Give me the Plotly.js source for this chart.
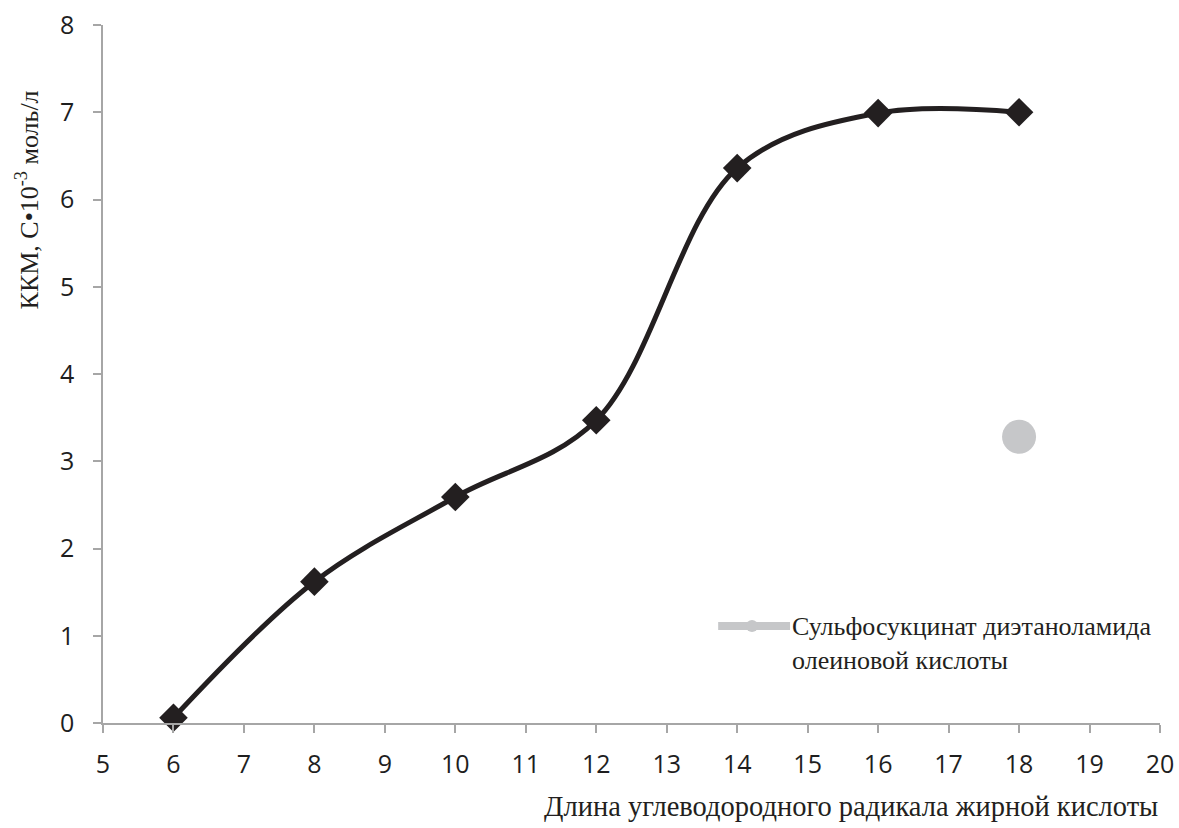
<!DOCTYPE html>
<html><head><meta charset="utf-8">
<script src="https://cdn.plot.ly/plotly-3.0.1.min.js"></script>
<style>body{margin:0;background:#fff}#chart{width:1179px;height:828px}</style>
</head><body><div id="chart"></div>
<script>
const chainLength = [6, 8, 10, 12, 14, 16, 18];
const cmcValues = [0.06, 1.62, 2.59, 3.47, 6.36, 6.99, 7.0];
const oleicX = [18];
const oleicY = [3.28];
const legendName = "Сульфосукцинат диэтаноламида<br>олеиновой кислоты";
const xTitle = "Длина углеводородного радикала жирной кислоты";
const yTitle = "ККМ, С•10<sup>-3</sup> моль/л";

const traces = [
  {x: chainLength, y: cmcValues, type: 'scatter', mode: 'lines+markers',
   line: {shape: 'spline', smoothing: 1, color: '#231f20', width: 5},
   marker: {symbol: 'diamond', size: 22, color: '#231f20'}, showlegend: false, cliponaxis: false},
  {x: oleicX, y: oleicY, type: 'scatter', mode: 'markers',
   marker: {symbol: 'circle', size: 34, color: '#c6c7c9'}, showlegend: false, cliponaxis: false}
];
const serif = "Liberation Serif, Times New Roman, serif";
const tickFont = {family: "Open Sans, sans-serif", size: 25, color: '#1e1e1e'};
const layout = {
  width: 1179, height: 828,
  margin: {l: 103, r: 19, t: 25, b: 105},
  paper_bgcolor: '#fff', plot_bgcolor: '#fff',
  xaxis: {range: [5, 20], dtick: 1, tick0: 5, showgrid: false, zeroline: false,
    showline: true, linecolor: '#a6a6a6', linewidth: 1.5,
    ticks: 'outside', ticklen: 8, tickcolor: '#a6a6a6', tickwidth: 1.5,
    ticklabelstandoff: 10, tickfont: tickFont},
  yaxis: {range: [0, 8], dtick: 1, showgrid: false, zeroline: false,
    showline: true, linecolor: '#a6a6a6', linewidth: 1.5,
    ticks: 'outside', ticklen: 8, tickcolor: '#a6a6a6', tickwidth: 1.5,
    ticklabelstandoff: 14, tickfont: tickFont},
  shapes: [
    {type: 'line', xref: 'paper', yref: 'paper', x0: 0.582, x1: 0.650, y0: 0.139, y1: 0.139,
     line: {color: '#c6c7c9', width: 8}},
    {type: 'circle', xref: 'paper', yref: 'paper', x0: 0.6083, x1: 0.6197, y0: 0.1304, y1: 0.1476,
     fillcolor: '#c6c7c9', line: {width: 0}}
  ],
  annotations: [
    {text: legendName, xref: 'paper', yref: 'paper', x: 0.650, y: 0.114, xanchor: 'left', yanchor: 'middle',
     align: 'left', showarrow: false, font: {family: serif, size: 26, color: '#231f20'}},
    {text: xTitle, xref: 'paper', yref: 'paper', x: 1.0, y: -0.12, xanchor: 'right', yanchor: 'middle',
     showarrow: false, font: {family: serif, size: 28.5, color: '#231f20'}},
    {text: yTitle, xref: 'paper', yref: 'paper', x: -0.071, y: 0.750, xanchor: 'center', yanchor: 'middle',
     textangle: -90, showarrow: false, font: {family: serif, size: 26, color: '#231f20'}}
  ]
};
Plotly.newPlot('chart', traces, layout, {displayModeBar: false});
</script></body></html>
